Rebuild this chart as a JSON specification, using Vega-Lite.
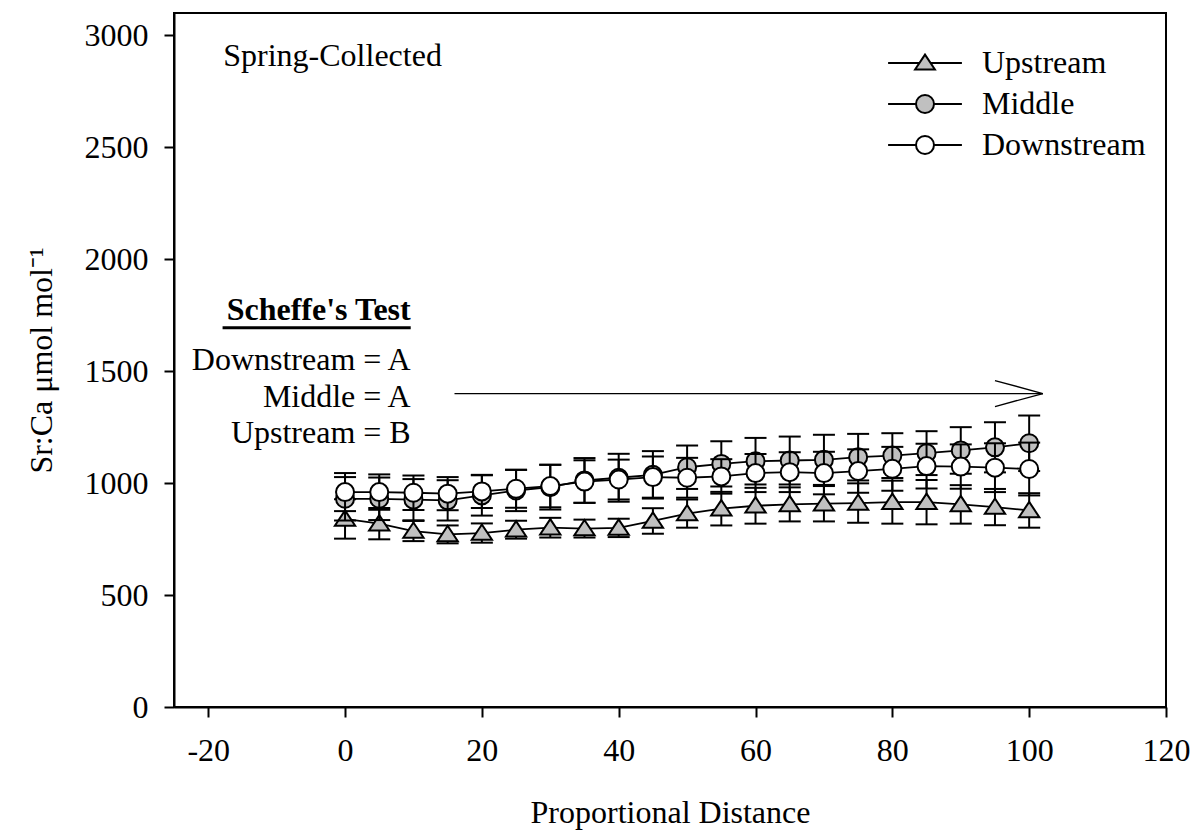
{
  "$schema": "https://vega.github.io/schema/vega-lite/v6.json",
  "autosize": "none",
  "width": 992,
  "height": 694,
  "padding": {"left": 174, "top": 13, "right": 32, "bottom": 129},
  "background": "white",
  "data": {
    "values": [
      {"series": "Upstream", "x": 0, "mean": 840, "err": 88},
      {"series": "Upstream", "x": 5, "mean": 819, "err": 70},
      {"series": "Upstream", "x": 10, "mean": 786, "err": 45},
      {"series": "Upstream", "x": 15, "mean": 771, "err": 40},
      {"series": "Upstream", "x": 20, "mean": 777, "err": 43},
      {"series": "Upstream", "x": 25, "mean": 792, "err": 40},
      {"series": "Upstream", "x": 30, "mean": 801, "err": 44},
      {"series": "Upstream", "x": 35, "mean": 797, "err": 40},
      {"series": "Upstream", "x": 40, "mean": 800, "err": 41},
      {"series": "Upstream", "x": 45, "mean": 831, "err": 57},
      {"series": "Upstream", "x": 50, "mean": 864, "err": 63},
      {"series": "Upstream", "x": 55, "mean": 886, "err": 75},
      {"series": "Upstream", "x": 60, "mean": 899, "err": 80},
      {"series": "Upstream", "x": 65, "mean": 905, "err": 76},
      {"series": "Upstream", "x": 70, "mean": 908, "err": 79},
      {"series": "Upstream", "x": 75, "mean": 911, "err": 88},
      {"series": "Upstream", "x": 80, "mean": 915, "err": 96},
      {"series": "Upstream", "x": 85, "mean": 915, "err": 99},
      {"series": "Upstream", "x": 90, "mean": 905, "err": 86},
      {"series": "Upstream", "x": 95, "mean": 893, "err": 81},
      {"series": "Upstream", "x": 100, "mean": 878, "err": 77},
      {"series": "Middle", "x": 0, "mean": 930, "err": 97},
      {"series": "Middle", "x": 5, "mean": 930, "err": 95},
      {"series": "Middle", "x": 10, "mean": 926, "err": 92},
      {"series": "Middle", "x": 15, "mean": 923, "err": 90},
      {"series": "Middle", "x": 20, "mean": 945, "err": 90},
      {"series": "Middle", "x": 25, "mean": 967, "err": 92},
      {"series": "Middle", "x": 30, "mean": 982, "err": 100},
      {"series": "Middle", "x": 35, "mean": 1012, "err": 100},
      {"series": "Middle", "x": 40, "mean": 1024, "err": 107},
      {"series": "Middle", "x": 45, "mean": 1037, "err": 106},
      {"series": "Middle", "x": 50, "mean": 1071, "err": 97},
      {"series": "Middle", "x": 55, "mean": 1086, "err": 101},
      {"series": "Middle", "x": 60, "mean": 1098, "err": 104},
      {"series": "Middle", "x": 65, "mean": 1101, "err": 107},
      {"series": "Middle", "x": 70, "mean": 1104, "err": 112},
      {"series": "Middle", "x": 75, "mean": 1116, "err": 104},
      {"series": "Middle", "x": 80, "mean": 1123, "err": 100},
      {"series": "Middle", "x": 85, "mean": 1134, "err": 98},
      {"series": "Middle", "x": 90, "mean": 1146, "err": 104},
      {"series": "Middle", "x": 95, "mean": 1160, "err": 112},
      {"series": "Middle", "x": 100, "mean": 1178, "err": 124},
      {"series": "Downstream", "x": 0, "mean": 960, "err": 85},
      {"series": "Downstream", "x": 5, "mean": 960, "err": 79},
      {"series": "Downstream", "x": 10, "mean": 957, "err": 77},
      {"series": "Downstream", "x": 15, "mean": 953, "err": 74},
      {"series": "Downstream", "x": 20, "mean": 963, "err": 74},
      {"series": "Downstream", "x": 25, "mean": 975, "err": 85},
      {"series": "Downstream", "x": 30, "mean": 987, "err": 95},
      {"series": "Downstream", "x": 35, "mean": 1007, "err": 95},
      {"series": "Downstream", "x": 40, "mean": 1016, "err": 89},
      {"series": "Downstream", "x": 45, "mean": 1027, "err": 92},
      {"series": "Downstream", "x": 50, "mean": 1024, "err": 89},
      {"series": "Downstream", "x": 55, "mean": 1030, "err": 77},
      {"series": "Downstream", "x": 60, "mean": 1045, "err": 85},
      {"series": "Downstream", "x": 65, "mean": 1049, "err": 89},
      {"series": "Downstream", "x": 70, "mean": 1045, "err": 95},
      {"series": "Downstream", "x": 75, "mean": 1054, "err": 97},
      {"series": "Downstream", "x": 80, "mean": 1064, "err": 98},
      {"series": "Downstream", "x": 85, "mean": 1076, "err": 100},
      {"series": "Downstream", "x": 90, "mean": 1074, "err": 99},
      {"series": "Downstream", "x": 95, "mean": 1069, "err": 109},
      {"series": "Downstream", "x": 100, "mean": 1063, "err": 118}
    ]
  },
  "encoding": {
    "x": {
      "field": "x",
      "type": "quantitative",
      "title": "Proportional Distance",
      "scale": {"domain": [-25, 120], "nice": false, "zero": false},
      "axis": {"values": [-20, 0, 20, 40, 60, 80, 100, 120], "labelExpr": "datum.value < 0 ? '-' + abs(datum.value) : '' + datum.value", "labelPadding": 18, "titlePadding": 31, "labelFlush": false}
    },
    "y": {
      "field": "mean",
      "type": "quantitative",
      "title": "Sr:Ca μmol mol⁻¹",
      "scale": {"domain": [0, 3100], "nice": false},
      "axis": {"values": [0, 500, 1000, 1500, 2000, 2500, 3000], "format": "d", "labelPadding": 16, "titlePadding": 26, "labelFlush": false}
    }
  },
  "layer": [
    {
      "transform": [{"filter": "false"}],
      "mark": {"type": "point", "filled": true, "stroke": "black", "strokeWidth": 2, "size": 324, "opacity": 1},
      "encoding": {
        "shape": {"field": "series", "type": "nominal", "scale": {"domain": ["Upstream", "Middle", "Downstream"], "range": ["M-4.1,0L-0.62,0M0.62,0L4.1,0M0,-0.93L1.1,0.73L-1.1,0.73Z", "M-4.1,0L-1,0M1,0L4.1,0M-1,0A1,1 0 1,1 1,0A1,1 0 1,1 -1,0Z", "M-4.1,0L-1,0M1,0L4.1,0M-1,0A1,1 0 1,1 1,0A1,1 0 1,1 -1,0Z"]}, "legend": {"title": null, "orient": "none", "legendX": 735, "legendY": 34, "padding": 0, "symbolSize": 324, "labelOffset": 41, "rowPadding": 9, "labelLimit": 300, "labelFont": "Liberation Serif", "labelFontSize": 32, "labelColor": "black", "symbolStrokeColor": "black", "symbolStrokeWidth": 2, "symbolOpacity": 1, "encode": {"symbols": {"update": {"stroke": {"value": "black"}, "strokeWidth": {"value": 2}, "opacity": {"value": 1}}}}}},
        "fill": {"field": "series", "type": "nominal", "scale": {"domain": ["Upstream", "Middle", "Downstream"], "range": ["#c0c0c0", "#c0c0c0", "#ffffff"]}, "legend": {"title": null, "orient": "none", "legendX": 735, "legendY": 34, "padding": 0, "symbolSize": 324, "labelOffset": 41, "rowPadding": 9, "labelLimit": 300, "labelFont": "Liberation Serif", "labelFontSize": 32, "labelColor": "black", "symbolStrokeColor": "black", "symbolStrokeWidth": 2, "symbolOpacity": 1, "encode": {"symbols": {"update": {"stroke": {"value": "black"}, "strokeWidth": {"value": 2}, "opacity": {"value": 1}}}}}}
      }
    },
    {
      "transform": [{"filter": "datum.series === 'Upstream'"}],
      "mark": {"type": "errorbar", "color": "black", "thickness": 2, "size": 22, "ticks": {"opacity": 1}, "rule": {"opacity": 1}},
      "encoding": {"yError": {"field": "err"}}
    },
    {
      "transform": [{"filter": "datum.series === 'Upstream'"}],
      "mark": {"type": "line", "color": "black", "strokeWidth": 1.8}
    },
    {
      "transform": [{"filter": "datum.series === 'Upstream'"}],
      "mark": {"type": "point", "filled": true, "shape": "M0,-0.93L1.1,0.73L-1.1,0.73Z", "fill": "#c0c0c0", "stroke": "black", "strokeWidth": 2, "size": 340, "opacity": 1}
    },
    {
      "transform": [{"filter": "datum.series === 'Middle'"}],
      "mark": {"type": "errorbar", "color": "black", "thickness": 2, "size": 22, "ticks": {"opacity": 1}, "rule": {"opacity": 1}},
      "encoding": {"yError": {"field": "err"}}
    },
    {
      "transform": [{"filter": "datum.series === 'Middle'"}],
      "mark": {"type": "line", "color": "black", "strokeWidth": 1.8}
    },
    {
      "transform": [{"filter": "datum.series === 'Middle'"}],
      "mark": {"type": "point", "filled": true, "shape": "circle", "fill": "#c0c0c0", "stroke": "black", "strokeWidth": 2, "size": 324, "opacity": 1}
    },
    {
      "transform": [{"filter": "datum.series === 'Downstream'"}],
      "mark": {"type": "errorbar", "color": "black", "thickness": 2, "size": 22, "ticks": {"opacity": 1}, "rule": {"opacity": 1}},
      "encoding": {"yError": {"field": "err"}}
    },
    {
      "transform": [{"filter": "datum.series === 'Downstream'"}],
      "mark": {"type": "line", "color": "black", "strokeWidth": 1.8}
    },
    {
      "transform": [{"filter": "datum.series === 'Downstream'"}],
      "mark": {"type": "point", "filled": true, "shape": "circle", "fill": "#ffffff", "stroke": "black", "strokeWidth": 2, "size": 324, "opacity": 1}
    },
    {
      "data": {"values": [
        {"x": 16, "y": 1400, "xe": 102, "ye": 1400},
        {"x": 102, "y": 1400, "xe": 95, "ye": 1458},
        {"x": 102, "y": 1400, "xe": 95, "ye": 1342}
      ]},
      "mark": {"type": "rule", "color": "black", "strokeWidth": 1.4},
      "encoding": {
        "x": {"field": "x", "type": "quantitative"},
        "y": {"field": "y", "type": "quantitative"},
        "x2": {"field": "xe"},
        "y2": {"field": "ye"}
      }
    },
    {
      "data": {"values": [{"x": -17.9, "y": 1694, "xe": 9.6, "ye": 1694}]},
      "mark": {"type": "rule", "color": "black", "strokeWidth": 3},
      "encoding": {
        "x": {"field": "x", "type": "quantitative"},
        "y": {"field": "y", "type": "quantitative"},
        "x2": {"field": "xe"},
        "y2": {"field": "ye"}
      }
    },
    {
      "data": {"values": [{"label": "Spring-Collected", "x": -17.8, "y": 2910}]},
      "mark": {"type": "text", "align": "left", "baseline": "middle", "font": "Liberation Serif", "fontSize": 32, "color": "black"},
      "encoding": {
        "x": {"field": "x", "type": "quantitative"},
        "y": {"field": "y", "type": "quantitative"},
        "text": {"field": "label"}
      }
    },
    {
      "data": {"values": [{"label": "Scheffe's Test", "x": 9.6, "y": 1774}]},
      "mark": {"type": "text", "align": "right", "baseline": "middle", "font": "Liberation Serif", "fontSize": 32, "fontWeight": "bold", "color": "black"},
      "encoding": {
        "x": {"field": "x", "type": "quantitative"},
        "y": {"field": "y", "type": "quantitative"},
        "text": {"field": "label"}
      }
    },
    {
      "data": {"values": [
        {"label": "Downstream = A", "x": 9.6, "y": 1551},
        {"label": "Middle = A", "x": 9.6, "y": 1385},
        {"label": "Upstream = B", "x": 9.6, "y": 1225}
      ]},
      "mark": {"type": "text", "align": "right", "baseline": "middle", "font": "Liberation Serif", "fontSize": 32, "color": "black"},
      "encoding": {
        "x": {"field": "x", "type": "quantitative"},
        "y": {"field": "y", "type": "quantitative"},
        "text": {"field": "label"}
      }
    }
  ],
  "config": {
    "font": "Liberation Serif",
    "view": {"stroke": "black", "strokeWidth": 2},
    "tick": {"opacity": 1},
    "axis": {
      "grid": false,
      "domainColor": "black",
      "domainWidth": 2,
      "tickColor": "black",
      "tickWidth": 2,
      "tickSize": 10,
      "labelFont": "Liberation Serif",
      "labelFontSize": 32,
      "labelColor": "black",
      "titleFont": "Liberation Serif",
      "titleFontSize": 32,
      "titleFontWeight": "normal",
      "titleColor": "black"
    }
  }
}
